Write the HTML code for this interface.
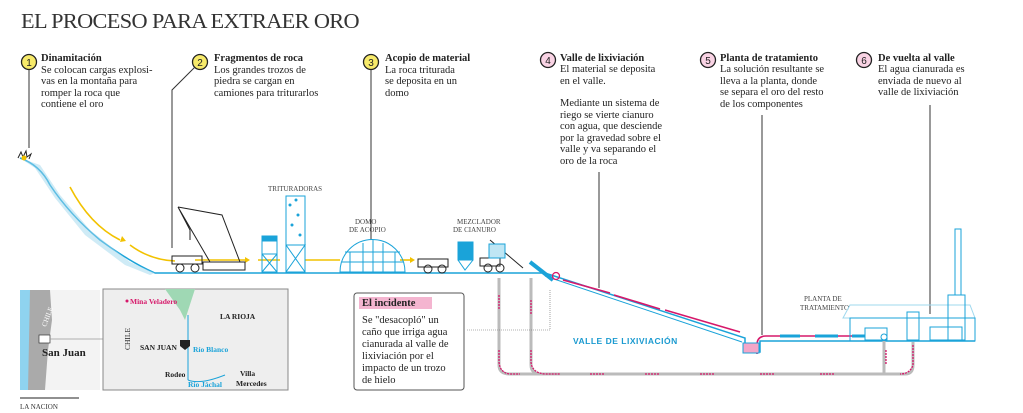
<!DOCTYPE html>
<html><head><meta charset="utf-8"><style>
body{margin:0;background:#fff;}
svg{display:block;font-family:"Liberation Serif",serif;}
.t{font-size:10.5px;fill:#222;}
.b{font-weight:bold;}
</style></head><body>
<svg width="1023" height="413" viewBox="0 0 1023 413" xmlns="http://www.w3.org/2000/svg">
<text x="21" y="28" font-size="21.5" fill="#333" letter-spacing="-0.6" textLength="338" lengthAdjust="spacingAndGlyphs">EL PROCESO PARA EXTRAER ORO</text>

<g stroke="#222" stroke-width="1.3" font-size="10" font-family="Liberation Sans,sans-serif" text-anchor="middle">
<circle cx="29" cy="62" r="7.5" fill="#f7ea6a"/><text x="29" y="66" stroke="none" fill="#222">1</text>
<circle cx="200" cy="62" r="7.5" fill="#f7ea6a"/><text x="200" y="66" stroke="none" fill="#222">2</text>
<circle cx="371" cy="62" r="7.5" fill="#f7ea6a"/><text x="371" y="66" stroke="none" fill="#222">3</text>
<circle cx="548" cy="60" r="7.5" fill="#f9d3e4"/><text x="548" y="64" stroke="none" fill="#222">4</text>
<circle cx="708" cy="60" r="7.5" fill="#f9d3e4"/><text x="708" y="64" stroke="none" fill="#222">5</text>
<circle cx="864" cy="60" r="7.5" fill="#f9d3e4"/><text x="864" y="64" stroke="none" fill="#222">6</text>
</g>

<g class="t">
<text x="41" y="61" class="b">Dinamitación</text>
<text x="41" y="73">Se colocan cargas explosi-</text>
<text x="41" y="84">vas en la montaña para</text>
<text x="41" y="96">romper la roca que</text>
<text x="41" y="107">contiene el oro</text>

<text x="214" y="61" class="b">Fragmentos de roca</text>
<text x="214" y="73">Los grandes trozos de</text>
<text x="214" y="84">piedra se cargan en</text>
<text x="214" y="96">camiones para triturarlos</text>

<text x="385" y="61" class="b">Acopio de material</text>
<text x="385" y="73">La roca triturada</text>
<text x="385" y="84">se deposita en un</text>
<text x="385" y="96">domo</text>

<text x="560" y="61" class="b">Valle de lixiviación</text>
<text x="560" y="72">El material se deposita</text>
<text x="560" y="84">en el valle.</text>
<text x="560" y="106">Mediante un sistema de</text>
<text x="560" y="118">riego se vierte cianuro</text>
<text x="560" y="129">con agua, que desciende</text>
<text x="560" y="141">por la gravedad sobre el</text>
<text x="560" y="152">valle y va separando el</text>
<text x="560" y="164">oro de la roca</text>

<text x="720" y="61" class="b">Planta de tratamiento</text>
<text x="720" y="72">La solución resultante se</text>
<text x="720" y="84">lleva a la planta, donde</text>
<text x="720" y="95">se separa el oro del resto</text>
<text x="720" y="107">de los componentes</text>

<text x="878" y="61" class="b">De vuelta al valle</text>
<text x="878" y="72">El agua cianurada es</text>
<text x="878" y="84">enviada de nuevo al</text>
<text x="878" y="95">valle de lixiviación</text>
</g>

<g stroke="#333" stroke-width="1" fill="none">
<path d="M29 70 V148"/>
<path d="M195 67 L172 90 V248"/>
<path d="M371 70 V240"/>
<path d="M599 172 V288"/>
<path d="M762 115 V335"/>
<path d="M930 105 V314"/>
</g>

<g stroke="#1aa3d9" stroke-width="1.5" fill="none">
<path d="M20 158 Q40 165 50 185 Q70 215 100 240 Q130 262 155 273 H545 L745 338 V352 H760 V341 H975"/>
<path d="M545 276 L742 342" stroke-width="1"/>
</g>
<path d="M20 158 L40 165 L60 195 L90 230 L130 262 L155 273 L150 275 L125 265 L85 235 L55 198 L35 168Z" fill="#9fd8ee" opacity="0.5"/>
<path d="M18 158 l3-6 l2 5 l3-6 l1 6 l4-3 l-2 5" stroke="#222" fill="none" stroke-width="1"/>
<circle cx="24" cy="158" r="2.5" fill="#f2c200"/>
<g stroke="#f2c200" stroke-width="1.6" fill="none">
<path d="M70 187 Q90 225 120 240"/>
<path d="M130 245 Q150 260 175 261"/>
<path d="M195 260 H245"/>
<path d="M258 260 H280"/>
<path d="M305 260 H340"/>
<path d="M400 260 H410"/>
</g>
<g fill="#f2c200">
<path d="M122 236 l4 5 l-6 1z"/><path d="M245 257 l5 3 l-5 3z"/><path d="M410 257 l5 3 l-5 3z"/>
</g>
<g stroke="#222" stroke-width="1" fill="none">
<path d="M178 207 L222 215 L240 262 M178 207 L210 262 M178 207 L190 230 V240"/>
<rect x="203" y="262" width="42" height="8" fill="#fff"/>
<rect x="172" y="256" width="30" height="8"/>
<circle cx="180" cy="268" r="4"/><circle cx="195" cy="268" r="4"/>
<rect x="418" y="259" width="30" height="8"/>
<circle cx="428" cy="269" r="4"/><circle cx="442" cy="269" r="4"/>
<rect x="480" y="258" width="20" height="8"/>
<circle cx="488" cy="268" r="4"/><circle cx="500" cy="268" r="4"/>
<path d="M490 240 L523 268"/>
</g>
<g stroke="#1aa3d9" stroke-width="1" fill="none">
<rect x="262" y="236" width="15" height="36"/><rect x="262" y="236" width="15" height="5" fill="#1aa3d9"/>
<path d="M262 254 H277 M262 254 L277 272 M277 254 L262 272"/>
<rect x="286" y="196" width="19" height="76"/>
<path d="M286 245 H305 L286 272 M305 245 V272 M286 245 L305 272"/>
<path d="M340 272 A32 32 0 0 1 405 272 Z"/>
<path d="M350 272 V252 M363 272 V243 M373 272 V240 M383 272 V243 M395 272 V252 M342 262 H404 M345 252 H400"/>
<rect x="458" y="242" width="15" height="18" fill="#1aa3d9"/><path d="M458 260 L465 270 L473 260"/>
<rect x="489" y="244" width="16" height="14" fill="#bfe6f4"/>
<path d="M530 262 L553 280" stroke-width="4"/>
</g>
<g fill="#1aa3d9"><circle cx="290" cy="205" r="1.5"/><circle cx="298" cy="215" r="1.5"/><circle cx="292" cy="225" r="1.5"/><circle cx="300" cy="235" r="1.5"/><circle cx="296" cy="200" r="1.5"/></g>
<g font-size="7" fill="#444" font-family="Liberation Serif,serif">
<text x="268" y="191">TRITURADORAS</text>
<text x="355" y="224">DOMO</text><text x="349" y="232">DE ACOPIO</text>
<text x="457" y="224">MEZCLADOR</text><text x="453" y="232">DE CIANURO</text>
<text x="804" y="301">PLANTA DE</text><text x="800" y="310">TRATAMIENTO</text>
</g>
<circle cx="556" cy="276" r="3.5" fill="none" stroke="#d6186a" stroke-width="1.3"/>
<g stroke="#d6186a" stroke-width="1.6" fill="none">
<path d="M563 280 L610 293 M614 295 L660 309 M665 310 L740 332"/>
<path d="M757 354 V345 Q757 336 766 336 H780 M800 336 H815 M838 336 H852"/>
</g>
<g stroke="#1aa3d9" stroke-width="3"><path d="M780 336 H800 M815 336 H838 M852 336 H865"/></g>
<rect x="743" y="343" width="16" height="10" fill="#f4a6c8" stroke="#1aa3d9"/>
<g stroke="#1aa3d9" stroke-width="1" fill="none">
<path d="M843 318 L850 305 H970 L975 318 Z" stroke="#9fd8ee"/>
<rect x="850" y="318" width="125" height="23"/>
<rect x="865" y="328" width="22" height="12"/>
<rect x="907" y="312" width="12" height="28"/>
<rect x="948" y="295" width="17" height="45"/><rect x="955" y="229" width="6" height="66"/>
<rect x="930" y="327" width="32" height="13"/>
</g>
<g stroke="#bbb" stroke-width="3" fill="none">
<path d="M499 278 V365 Q499 374 510 374 H905 Q913 374 913 365 V342"/>
<path d="M531 278 V365 Q531 374 542 374"/>
<path d="M884 341 V374"/>
</g>
<g stroke="#d6186a" stroke-width="1.3" fill="none" stroke-dasharray="2 1">
<path d="M499 295 V310 M499 350 V362 Q500 373 510 374 H520"/>
<path d="M531 300 V314 M531 350 V362 Q532 373 545 374 H560"/>
<path d="M590 374 H605 M645 374 H660 M700 374 H715 M760 374 H775 M820 374 H835 M886 350 V364 M913 345 V365 Q910 374 900 374"/>
</g>
<circle cx="884" cy="337" r="3" fill="#fff" stroke="#1aa3d9"/>
<text x="573" y="344" font-size="8.5" font-weight="bold" fill="#1a9ad0" font-family="Liberation Sans,sans-serif" letter-spacing="0.5">VALLE DE LIXIVIACIÓN</text>
<path d="M550 290 V330 H466" stroke="#666" stroke-width="0.6" stroke-dasharray="1 1" fill="none"/>

<rect x="354" y="293" width="110" height="97" rx="3" fill="#fff" stroke="#555"/>
<rect x="359" y="297" width="73" height="12" fill="#f4b5d0"/>
<g class="t" font-size="10">
<text x="362" y="306" class="b">El incidente</text>
<text x="362" y="323">Se "desacopló" un</text>
<text x="362" y="335">caño que irriga agua</text>
<text x="362" y="347">cianurada al valle de</text>
<text x="362" y="359">lixiviación por el</text>
<text x="362" y="371">impacto de un trozo</text>
<text x="362" y="383">de hielo</text>
</g>

<rect x="20" y="290" width="80" height="100" fill="#f3f3f3"/>
<rect x="20" y="290" width="12" height="100" fill="#8fd3ef"/>
<path d="M30 290 H50 L52 320 L48 350 L45 390 H28 Z" fill="#aaa"/>
<text x="34" y="330" font-size="7" fill="#fff" transform="rotate(-70 38 320)">CHILE</text>
<rect x="39" y="335" width="11" height="8" fill="#fff" stroke="#333" stroke-width="0.7"/>
<line x1="50" y1="339" x2="103" y2="339" stroke="#999" stroke-width="0.7"/>
<text x="42" y="356" font-size="11" font-weight="bold" fill="#222">San Juan</text>
<rect x="103" y="289" width="185" height="101" fill="#eee" stroke="#888"/>
<path d="M165 289 H195 L185 320 L180 310 Z" fill="#9fd8b4"/>
<path d="M188 315 V380 M188 380 Q200 385 225 375" stroke="#1aa3d9" fill="none"/>
<path d="M180 340 h10 v6 l-5 4 l-5 -4z" fill="#222"/>
<g font-size="7.5" font-weight="bold" fill="#222">
<circle cx="127" cy="301" r="1.5" fill="#d6186a"/>
<text x="130" y="304" fill="#d6186a">Mina Veladero</text>
<text x="220" y="319">LA RIOJA</text>
<text x="140" y="350">SAN JUAN</text>
<text x="193" y="352" fill="#1aa3d9">Río Blanco</text>
<text x="165" y="377">Rodeo</text>
<text x="188" y="387" fill="#1aa3d9">Río Jáchal</text>
<text x="240" y="376">Villa</text><text x="236" y="386">Mercedes</text>
<text x="125" y="355" font-weight="normal" transform="rotate(-90 125 350)">CHILE</text>
</g>
<line x1="20" y1="398" x2="79" y2="398" stroke="#222" stroke-width="1"/>
<text x="20" y="409" font-size="7" fill="#333">LA NACION</text>
</svg>
</body></html>
